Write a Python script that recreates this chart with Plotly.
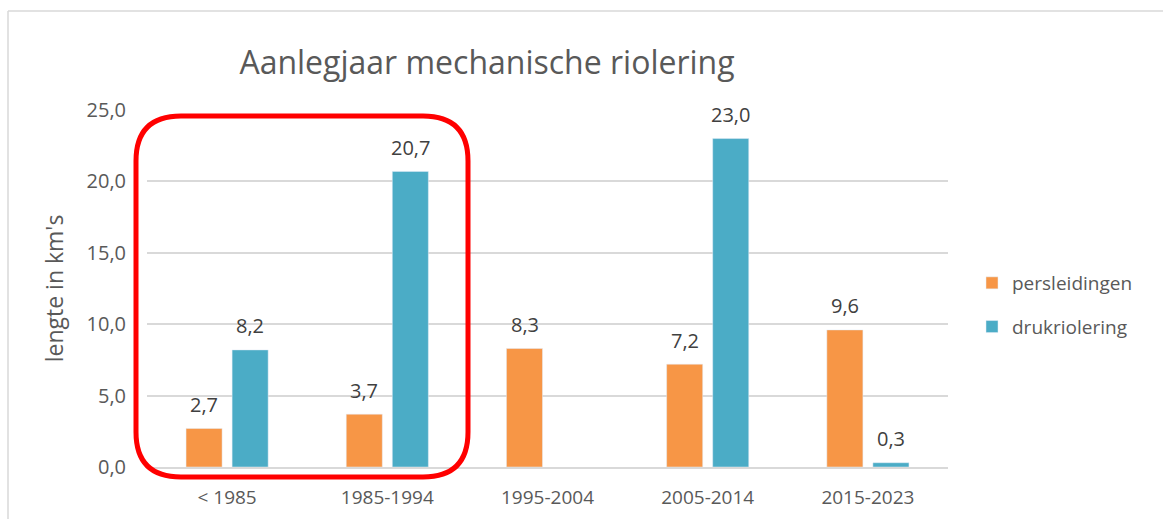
import plotly.graph_objects as go

categories = ["< 1985", "1985-1994", "1995-2004", "2005-2014", "2015-2023"]
persleidingen = [2.7, 3.7, 8.3, 7.2, 9.6]
drukriolering = [8.2, 20.7, None, 23.0, 0.3]
y_ticks = [0, 5, 10, 15, 20, 25]
y_tick_labels = ["0,0", "5,0", "10,0", "15,0", "20,0", "25,0"]

ORANGE = "#f79646"
BLUE = "#4bacc6"
GREY_TXT = "#595959"
FONT = "Open Sans"

W, H = 1163, 519
L, R, T, B = 147, 948, 110, 467  # plot area in pixels

fig = go.Figure()
fig.add_trace(go.Bar(name="persleidingen", x=categories, y=persleidingen,
                     marker_color=ORANGE, legendgroup="a"))
fig.add_trace(go.Bar(name="drukriolering", x=categories, y=drukriolering,
                     marker_color=BLUE, legendgroup="b"))

annotations = []
for series, shift in ((persleidingen, -23), (drukriolering, 23)):
    for c, v in zip(categories, series):
        if v is None:
            continue
        annotations.append(dict(x=c, y=v, xref="x", yref="y",
                                text=f"{v:.1f}".replace(".", ","),
                                showarrow=False, xshift=shift, yshift=24,
                                yanchor="middle",
                                font=dict(family=FONT, size=20, color="#404040")))

def px2paper_x(px):
    return (px - L) / (R - L)

def px2paper_y(py):
    return (B - py) / (B - T)

# rounded red rectangle
x0p, x1p, y0p, y1p, rad = 136, 468, 477, 116, 45
x0, x1 = px2paper_x(x0p), px2paper_x(x1p)
y0, y1 = px2paper_y(y0p), px2paper_y(y1p)
rx = rad / (R - L)
ry = rad / (B - T)
path = (f"M {x0+rx},{y1} L {x1-rx},{y1} Q {x1},{y1} {x1},{y1-ry} "
        f"L {x1},{y0+ry} Q {x1},{y0} {x1-rx},{y0} L {x0+rx},{y0} "
        f"Q {x0},{y0} {x0},{y0+ry} L {x0},{y1-ry} Q {x0},{y1} {x0+rx},{y1} Z")

shapes = [
    dict(type="path", path=path, xref="paper", yref="paper",
         line=dict(color="#ff0000", width=5), fillcolor="rgba(0,0,0,0)"),
    # outer chart border (left and top)
    dict(type="line", xref="paper", yref="paper",
         x0=px2paper_x(8), x1=px2paper_x(W + 5), y0=px2paper_y(11), y1=px2paper_y(11),
         line=dict(color="#d9d9d9", width=1.5)),
    dict(type="line", xref="paper", yref="paper",
         x0=px2paper_x(8), x1=px2paper_x(8), y0=px2paper_y(11), y1=px2paper_y(H + 5),
         line=dict(color="#d9d9d9", width=1.5)),
]

fig.update_layout(
    width=W, height=H,
    margin=dict(l=L, r=W - R, t=T, b=H - B, autoexpand=False),
    paper_bgcolor="white", plot_bgcolor="white",
    barmode="group", bargap=0.425, bargroupgap=0.217,
    title=dict(text="Aanlegjaar mechanische riolering",
               x=px2paper_x(487), xref="paper", xanchor="center",
               y=1 - 63 / H, yref="container", yanchor="middle",
               font=dict(family=FONT, size=32, color=GREY_TXT)),
    font=dict(family=FONT, color=GREY_TXT),
    xaxis=dict(showgrid=False, showline=True, linecolor="#d9d9d9", linewidth=1.5,
               ticks="", tickfont=dict(family=FONT, size=19, color=GREY_TXT),
               ticklabelstandoff=12),
    yaxis=dict(range=[0, 25], tickvals=y_ticks, ticktext=y_tick_labels,
               showgrid=True, gridcolor="#d9d9d9", gridwidth=1.5,
               zeroline=False, showline=False, ticks="",
               tickfont=dict(family=FONT, size=20, color=GREY_TXT),
               ticklabelstandoff=20,
               title=dict(text="lengte in km's", standoff=16,
                          font=dict(family=FONT, size=23, color=GREY_TXT))),
    legend=dict(x=px2paper_x(972), y=px2paper_y(305), xanchor="left", yanchor="middle",
                font=dict(family=FONT, size=19, color=GREY_TXT),
                tracegroupgap=16, itemwidth=30, bgcolor="rgba(0,0,0,0)"),
    shapes=shapes,
    annotations=annotations,
)

fig.write_html("out.html", post_script="document.body.style.margin='0';",
               config={"displayModeBar": False})
